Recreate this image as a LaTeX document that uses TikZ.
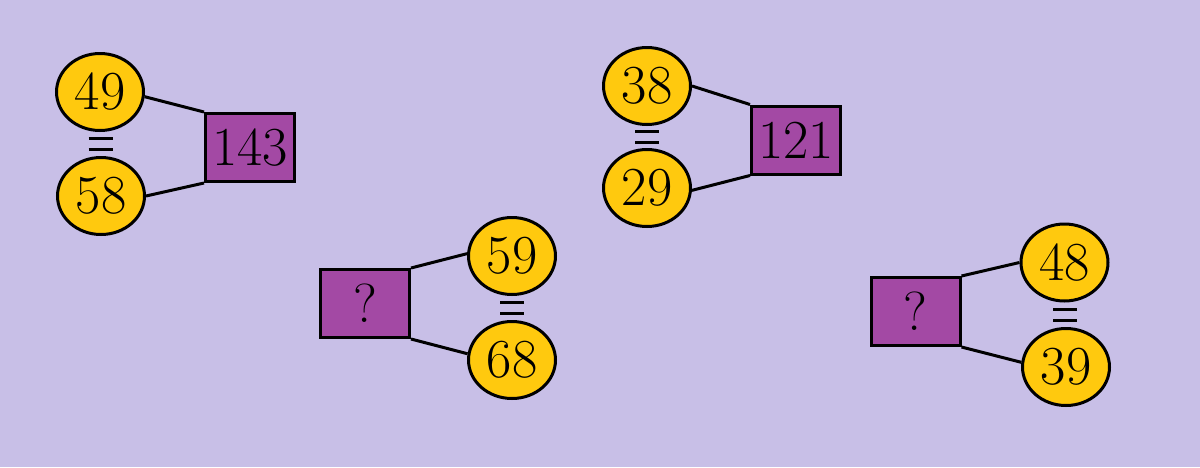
\documentclass[tikz,border=0pt]{standalone}
\usetikzlibrary{shapes.geometric,calc}
\definecolor{bgcol}{HTML}{C8BFE7}
\definecolor{numcol}{HTML}{FFC90E}
\definecolor{sumcol}{HTML}{A349A4}
\begin{document}
\begin{tikzpicture}[x=1pt,y=-1pt]
    \tikzset{
        num/.style={draw, ellipse, fill=numcol, line width=3pt, minimum width=87pt, minimum height=77pt, inner sep=0pt, font=\fontsize{55}{64}\selectfont},
        total/.style={draw, rectangle, fill=sumcol, line width=3pt, minimum width=89pt, minimum height=68pt, inner sep=0pt, font=\fontsize{55}{64}\selectfont},
        link/.style={line width=3pt}
    }
    \fill[bgcol] (0,0) rectangle (1200,467);
    \useasboundingbox (0,0) rectangle (1200,467);

    % first puzzle
    \draw node[num] (a) at (100,92) {49};
    \draw node[num] (b) at (101,196) {58};
    \draw node[total] (s) at (250,147.5) {143};
    % second puzzle
    \draw node[total] (t) at (365,303.5) {?};
    \draw node[num] (c) at (512,256) {59};
    \draw node[num] (d) at (512,360) {68};
    % third puzzle
    \draw node[num] (e) at (647,86) {38};
    \draw node[num] (f) at (647,188) {29};
    \draw node[total] (u) at (796,140) {121};
    % fourth puzzle
    \draw node[total] (v) at (915.5,311.5) {?};
    \draw node[num] (g) at (1064.5,262.5) {48};
    \draw node[num] (h) at (1066,367) {39};

    \foreach \x/\y in {%
        a.-6/s.north west, b.east/s.south west, t.north east/c.177, t.south east/d.172,%
        e.east/u.north west, f.-3/u.south west, v.north east/g.west, v.south east/h.174%
    }{
    \draw[link] (\x) -- (\y);
    }
    \foreach \x/\y in {a/b, c/d, e/f, g/h}{
    \coordinate (m) at ($(\x.south)!0.5!(\y.north)$);
    \draw[link] ($(m)+(-12,-5.5)$) -- ($(m)+(12,-5.5)$);
    \draw[link] ($(m)+(-12,5.5)$) -- ($(m)+(12,5.5)$);
    }
\end{tikzpicture}
\end{document}
